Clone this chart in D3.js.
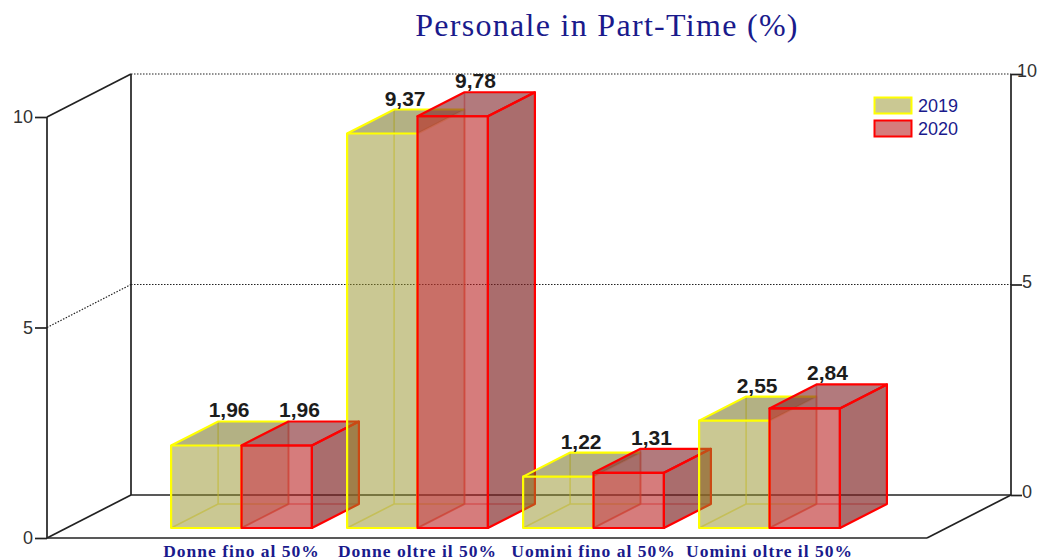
<!DOCTYPE html>
<html>
<head>
<meta charset="utf-8">
<script src="https://cdn.jsdelivr.net/npm/d3@7/dist/d3.min.js"></script>
<style>
  html, body { margin: 0; padding: 0; background: #fff; overflow: hidden; }
  svg { display: block; }
  text { font-family: "Liberation Sans", Arial, sans-serif; }
</style>
</head>
<body>
<div id="container"></div>
<script>
const categories = ['Donne fino al 50%', 'Donne oltre il 50%', 'Uomini fino al 50%', 'Uomini oltre il 50%'];
const years = ['2019', '2020'];
const values2019 = [1.96, 9.37, 1.22, 2.55];
const values2020 = [1.96, 9.78, 1.31, 2.84];
const yTicks = [0, 5, 10];

const width = 1039, height = 560;
// offset from front of the floor to the back wall, and from front to back of a bar
const wall = { dx: 84, dy: -43 };
const box = { dx: 47, dy: -24 };
const floorFront = 47, floorRight = 927;
const barBase = 528;

const colors = {
  2019: { stroke: '#ffff00', front: 'rgba(150,145,40,0.5)', top: 'rgba(110,105,20,0.52)', side: 'rgba(150,150,90,0.3)', inner: 'rgba(235,220,40,0.55)', sideStroke: 'rgba(230,170,60,0.35)' },
  2020: { stroke: '#ff0000', front: 'rgba(185,30,30,0.58)', top: 'rgba(130,40,45,0.62)', side: 'rgba(125,30,30,0.65)', inner: 'rgba(240,60,60,0.5)', sideStroke: '#ff0000' }
};

const svg = d3.select('#container').append('svg')
  .attr('width', width)
  .attr('height', height);

const y = d3.scaleLinear().domain([0, 10]).range([495, 74]);
const x0 = d3.scaleBand().domain(categories).range([153.5, 857.5]).paddingInner(0.2).paddingOuter(0.1);
const x1 = d3.scaleBand().domain(years).range([0, x0.bandwidth()]);

function line(x1, y1, x2, y2, dash) {
  svg.append('line')
    .attr('x1', x1).attr('y1', y1).attr('x2', x2).attr('y2', y2)
    .attr('stroke', '#222')
    .attr('stroke-width', dash ? 1.2 : 1.7)
    .attr('stroke-dasharray', dash ? '1.5 1.5' : null);
}

svg.append('text')
  .attr('x', 607).attr('y', 36)
  .attr('text-anchor', 'middle')
  .style('font-family', '"Liberation Serif", serif')
  .style('font-size', '32px')
  .style('letter-spacing', '1.3px')
  .attr('fill', '#1a1a8c')
  .text('Personale in Part-Time (%)');

// walls and floor
line(floorFront, y(10) + 43, floorFront, y(0) + 43);
line(floorFront + wall.dx, y(10), floorFront + wall.dx, y(0));
line(floorRight + wall.dx, y(10), floorRight + wall.dx, y(0));
line(floorFront + wall.dx, y(0), floorRight + wall.dx, y(0));
line(floorFront, y(0) + 43, floorRight, y(0) + 43);
line(floorRight, y(0) + 43, floorRight + wall.dx, y(0));
yTicks.forEach(t => {
  const dotted = t === 5;
  line(floorFront, y(t) + 43, floorFront + wall.dx, y(t), dotted);
  if (t > 0) line(floorFront + wall.dx, y(t), floorRight + wall.dx, y(t), true);
});

// left axis sits on the front edge, right axis on the back wall
const leftAxis = svg.append('g')
  .attr('transform', `translate(${floorFront},43)`)
  .call(d3.axisLeft(y).tickValues(yTicks).tickSize(12).tickPadding(2));
const rightAxis = svg.append('g')
  .attr('transform', `translate(${floorRight + wall.dx},0)`)
  .call(d3.axisRight(y).tickValues(yTicks).tickSize(11));
[leftAxis, rightAxis].forEach(a => {
  a.select('.domain').remove();
  a.selectAll('line').attr('stroke', '#222').attr('stroke-width', 1.7);
  a.selectAll('text')
    .style('font-family', '"Liberation Sans", sans-serif')
    .style('font-size', '18px')
    .attr('fill', '#333');
});
rightAxis.selectAll('text')
  .attr('x', 16)
  .attr('text-anchor', 'middle')
  .attr('dy', '0.14em');

function poly(g, pts, fill, stroke, sw) {
  g.append('path')
    .attr('d', d3.line()(pts) + 'Z')
    .attr('fill', fill)
    .attr('stroke', stroke)
    .attr('stroke-width', sw || 2.2)
    .attr('stroke-linejoin', 'round');
}

// painter's order: category by category, 2019 then 2020
categories.forEach((cat, i) => {
  years.forEach((yr, j) => {
    const v = (yr === '2019' ? values2019 : values2020)[i];
    const c = colors[yr];
    const g = svg.append('g').attr('class', 'bar');
    const left = x0(cat) + x1(yr);
    const right = left + x1.bandwidth();
    const top = barBase - (y(0) - y(v));
    const bl = [left + box.dx, barBase + box.dy];
    const br = [right + box.dx, barBase + box.dy];
    const tl = [left + box.dx, top + box.dy];
    const tr = [right + box.dx, top + box.dy];

    // hidden edges seen through the faces
    g.append('path')
      .attr('d', d3.line()([tl, bl, br]) + d3.line()([bl, [left, barBase]]))
      .attr('fill', 'none')
      .attr('stroke', c.inner)
      .attr('stroke-width', 1.6);

    poly(g, [[right, barBase], br, tr, [right, top]], c.side, c.sideStroke);
    poly(g, [[left, top], tl, tr, [right, top]], c.top, yr === '2019' ? 'none' : c.stroke);
    if (yr === '2019') {
      // only the near edges of the olive lid are bright, the red bar covers the rest
      g.append('path')
        .attr('d', d3.line()([[left, top], tl, tr]))
        .attr('fill', 'none')
        .attr('stroke', c.stroke)
        .attr('stroke-width', 2.2);
    }
    poly(g, [[left, barBase], [right, barBase], [right, top], [left, top]], c.front, c.stroke);

    svg.append('text')
      .attr('x', left + 58)
      .attr('y', top + box.dy - 4)
      .attr('text-anchor', 'middle')
      .style('font-size', '21px')
      .style('font-weight', 'bold')
      .attr('fill', '#1c1c1c')
      .text(d3.format('.2f')(v).replace('.', ','));
  });

  svg.append('text')
    .attr('x', x0(cat) + x0.bandwidth() / 2)
    .attr('y', 557)
    .attr('text-anchor', 'middle')
    .style('font-family', '"Liberation Serif", serif')
    .style('font-size', '17.5px')
    .style('font-weight', 'bold')
    .style('letter-spacing', '1px')
    .attr('fill', '#1a1a8c')
    .text(cat);
});

// legend
years.forEach((yr, i) => {
  const ly = 97 + i * 23;
  svg.append('rect')
    .attr('x', 874.5).attr('y', ly + 0.5)
    .attr('width', 37).attr('height', 16)
    .attr('fill', colors[yr].front)
    .attr('stroke', colors[yr].stroke)
    .attr('stroke-width', 2);
  svg.append('text')
    .attr('x', 918).attr('y', ly + 14.5)
    .style('font-size', '18px')
    .attr('fill', '#1a1a8c')
    .text(yr);
});
</script>
</body>
</html>
